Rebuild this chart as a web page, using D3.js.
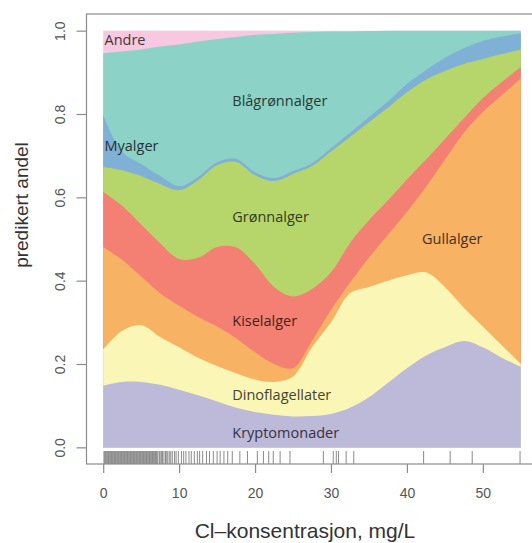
<!DOCTYPE html>
<html>
<head>
<meta charset="utf-8">
<script src="https://cdn.jsdelivr.net/npm/d3@7/dist/d3.min.js"></script>
<style>
  body { margin: 0; background: #fff; }
  svg { display: block; }
</style>
</head>
<body>
<div id="chart"></div>
<script>
// Cl concentration (mg/L) where the predicted shares are read
const conc = [0, 2.5, 5, 7.5, 10, 12.5, 15, 17.5, 20, 22.5, 25, 27.5, 30, 32.5, 35, 37.5, 40, 42.5, 45, 47.5, 50, 52.5, 55];

// predicted share per group (stacked bottom -> top)
const kryptomonader  = [.148, .157, .157, .150, .138, .125, .110, .095, .085, .078, .074, .075, .080, .095, .120, .155, .190, .220, .240, .255, .240, .215, .193];
const dinoflagellater = [.087, .123, .136, .115, .102, .090, .085, .083, .078, .079, .096, .165, .220, .275, .265, .245, .223, .200, .145, .080, .050, .030, .007];
const gullalger      = [.246, .170, .117, .105, .100, .098, .095, .084, .065, .043, .020, .015, .030, .025, .070, .110, .152, .205, .305, .420, .515, .600, .685];
const kiselalger     = [.132, .130, .125, .120, .112, .142, .191, .218, .212, .185, .172, .125, .090, .095, .090, .083, .078, .065, .050, .035, .033, .032, .027];
const gronnalger     = [.060, .085, .116, .142, .165, .186, .196, .205, .213, .254, .294, .295, .290, .255, .235, .222, .209, .192, .163, .130, .094, .067, .042];
const myalger        = [.124, .044, .029, .019, .010, .008, .007, .007, .007, .007, .007, .007, .008, .010, .013, .015, .020, .023, .032, .038, .043, .042, .040];
const blagronnalger  = [.149, .241, .275, .311, .340, .325, .296, .293, .330, .346, .332, .315, .280, .243, .206, .170, .128, .095, .065, .042, .025, .014, .006];
const andre          = [.054, .050, .045, .038, .033, .026, .020, .015, .010, .008, .005, .003, .002, .002, .001, 0, 0, 0, 0, 0, 0, 0, 0];

const groups = ["Kryptomonader", "Dinoflagellater", "Gullalger", "Kiselalger", "Grønnalger", "Myalger", "Blågrønnalger", "Andre"];
const groupSeries = [kryptomonader, dinoflagellater, gullalger, kiselalger, gronnalger, myalger, blagronnalger, andre];
const groupColors = ["#BDB9D9", "#F9F6B6", "#F8B263", "#F38072", "#B6D66B", "#7FB0D5", "#8DD2C6", "#F7C8DF"];

// label anchors in data units (mg/L, share)
const labelConc  = [17.0, 17.0, 42.0, 17.0, 17.0, 0.17, 17.0, 0.17];
const labelShare = [0.034, 0.126, 0.50, 0.303, 0.553, 0.723, 0.831, 0.978];

// sampling points of the observations (rug)
const rugValues = [0.1, 0.2, 0.3, 0.4, 0.5, 0.6, 0.7, 0.8, 0.9, 1.0, 1.1, 1.2, 1.3, 1.4, 1.5, 1.6, 1.7, 1.8,
  1.9, 2.0, 2.1, 2.2, 2.3, 2.4, 2.5, 2.6, 2.7, 2.8, 2.9, 3.0, 3.1, 3.2, 3.3, 3.4, 3.5, 3.6, 3.7, 3.8, 3.9,
  4.0, 4.1, 4.2, 4.3, 4.4, 4.5, 4.6, 4.7, 4.8, 4.9, 5.0, 5.1, 5.2, 5.3, 5.4, 5.5, 5.6, 5.7, 5.8, 5.9, 6.0,
  6.1, 6.2, 6.3, 6.4, 6.5, 6.6, 6.7, 6.8, 6.9, 7.0, 7.1, 7.2, 7.4, 7.5, 7.7, 7.8, 8.0, 8.2, 8.3, 8.5, 8.7,
  8.9, 9.1, 9.4, 9.6, 9.9, 10.3, 10.6, 10.9, 11.3, 11.6, 12.0, 12.4, 12.7, 13.1, 13.6, 14.0, 14.5, 15.0,
  15.4, 15.9, 16.4, 17.0, 18.0, 19.0, 20.3, 21.1, 21.8, 22.4, 23.3, 24.6, 29.0, 30.3, 30.7, 31.0, 32.0,
  33.0, 42.2, 45.7, 48.6, 54.9];

const xTicks = [0, 10, 20, 30, 40, 50];
const yTicks = [0, 0.2, 0.4, 0.6, 0.8, 1.0];
const yTickLabels = ["0.0", "0.2", "0.4", "0.6", "0.8", "1.0"];

const width = 532;
const height = 543;
const box = { left: 86.5, right: 537.5, top: 14, bottom: 464 };

const table = conc.map((c, i) => {
    const row = { conc: c };
    groups.forEach((g, j) => { row[g] = groupSeries[j][i]; });
    return row;
});

const stacked = d3.stack().keys(groups)(table);

// R style 4% padding round the data range
const xScale = d3.scaleLinear()
    .domain([-2.2, 57.2])
    .range([box.left, box.right]);

const yScale = d3.scaleLinear()
    .domain([-0.04, 1.04])
    .range([box.bottom, box.top]);

const svg = d3.select("#chart")
    .append("svg")
    .attr("width", width)
    .attr("height", height);

// each layer filled from 0 up to its top, drawn top layer first -> no seams
const area = d3.area()
    .x(d => xScale(d.data.conc))
    .y0(yScale(0))
    .y1(d => yScale(d[1]))
    .curve(d3.curveCatmullRom.alpha(0.5));

svg.append("g")
    .selectAll("path")
    .data(stacked.slice().reverse())
    .enter().append("path")
    .attr("fill", d => groupColors[d.index])
    .attr("d", area);

// group labels
svg.append("g")
    .selectAll("text")
    .data(groups)
    .enter().append("text")
    .attr("x", (d, i) => xScale(labelConc[i]))
    .attr("y", (d, i) => yScale(labelShare[i]))
    .attr("dy", "0.35em")
    .attr("font-family", "'Open Sans', sans-serif")
    .attr("font-size", "14.5px")
    .attr("fill", (d, i) => d3.color(groupColors[i]).darker(3.6))
    .text(d => d);

// rug
svg.append("g")
    .selectAll("line")
    .data(rugValues)
    .enter().append("line")
    .attr("x1", d => xScale(d))
    .attr("x2", d => xScale(d))
    .attr("y1", box.bottom)
    .attr("y2", box.bottom - 13)
    .attr("stroke", "#8a8a8a")
    .attr("stroke-width", 1);

// frame
svg.append("rect")
    .attr("x", box.left)
    .attr("y", box.top)
    .attr("width", box.right - box.left)
    .attr("height", box.bottom - box.top)
    .attr("fill", "none")
    .attr("stroke", "#8c8c8c")
    .attr("stroke-width", 1.2);

const xAxis = d3.axisBottom(xScale)
    .tickValues(xTicks)
    .tickSize(9)
    .tickPadding(15);

const xAxisGroup = svg.append("g")
    .attr("transform", `translate(0,${box.bottom})`)
    .call(xAxis);

const yAxis = d3.axisLeft(yScale)
    .tickValues(yTicks)
    .tickSize(10)
    .tickFormat((d, i) => yTickLabels[i]);

const yAxisGroup = svg.append("g")
    .attr("transform", `translate(${box.left},0)`)
    .call(yAxis);

[xAxisGroup, yAxisGroup].forEach(g => {
    g.select(".domain").remove();
    g.selectAll(".tick line").attr("stroke", "#8c8c8c").attr("stroke-width", 1.2);
    g.selectAll(".tick text")
        .attr("fill", "#555")
        .attr("font-family", "'Liberation Sans', Arial, sans-serif")
        .attr("font-size", "14px");
});

yAxisGroup.selectAll(".tick text")
    .attr("x", null)
    .attr("dy", "0.35em")
    .attr("text-anchor", "middle")
    .attr("transform", "translate(-26.5,0) rotate(-90)");

svg.append("text")
    .attr("x", 305)
    .attr("y", 538)
    .attr("text-anchor", "middle")
    .attr("font-family", "'Liberation Sans', Arial, sans-serif")
    .attr("font-size", "21px")
    .attr("fill", "#333")
    .text("Cl–konsentrasjon, mg/L");

svg.append("text")
    .attr("transform", "translate(28,205) rotate(-90)")
    .attr("text-anchor", "middle")
    .attr("font-family", "'Liberation Sans', Arial, sans-serif")
    .attr("font-size", "19px")
    .attr("fill", "#333")
    .text("predikert andel");
</script>
</body>
</html>
